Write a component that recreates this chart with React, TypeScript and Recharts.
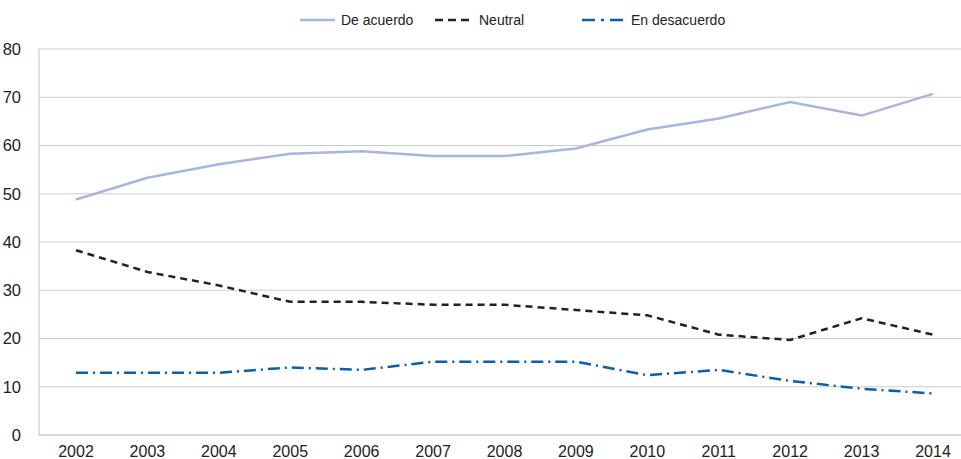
import React from "react";
import { CartesianGrid, Legend, Line, LineChart, XAxis, YAxis } from "recharts";

const years = ["2002", "2003", "2004", "2005", "2006", "2007", "2008", "2009", "2010", "2011", "2012", "2013", "2014"];
const deAcuerdo = [48.8, 53.3, 56.1, 58.3, 58.8, 57.8, 57.8, 59.4, 63.3, 65.6, 69.0, 66.2, 70.7];
const neutral = [38.3, 33.8, 31.0, 27.6, 27.6, 27.0, 27.0, 25.9, 24.8, 20.8, 19.7, 24.2, 20.8];
const enDesacuerdo = [12.9, 12.9, 12.9, 14.0, 13.5, 15.2, 15.2, 15.2, 12.4, 13.5, 11.2, 9.6, 8.6];
const yTicks = [0, 10, 20, 30, 40, 50, 60, 70, 80];

const data = years.map((y, i) => ({
  year: y,
  deAcuerdo: deAcuerdo[i],
  neutral: neutral[i],
  enDesacuerdo: enDesacuerdo[i],
}));

const series = [
  { key: "deAcuerdo", name: "De acuerdo", color: "#a7b6dd", dash: undefined, legendDash: undefined, iconX: 300, iconW: 35, textX: 341 },
  { key: "neutral", name: "Neutral", color: "#222222", dash: "7 5", legendDash: "8 5", iconX: 435, iconW: 36, textX: 479 },
  { key: "enDesacuerdo", name: "En desacuerdo", color: "#0b5ea8", dash: "12 5 2 5", legendDash: "13 6 3 6", iconX: 582, iconW: 41, textX: 631 },
];

const font = "'Liberation Sans', Arial, sans-serif";

function TopLegend() {
  return (
    <div style={{ position: "relative", width: 961, height: 40, fontFamily: font, fontSize: 14, color: "#222" }}>
      {series.map((s) => (
        <React.Fragment key={s.key}>
          <svg width={s.iconW} height={6} style={{ position: "absolute", left: s.iconX, top: 17 }}>
            <line x1={0} y1={3} x2={s.iconW} y2={3} stroke={s.color} strokeWidth={2.5} strokeDasharray={s.legendDash} />
          </svg>
          <span style={{ position: "absolute", left: s.textX, top: 11, lineHeight: "18px", whiteSpace: "nowrap" }}>{s.name}</span>
        </React.Fragment>
      ))}
    </div>
  );
}

export default function App() {
  return (
    <div>
      <style>{"body{margin:0}"}</style>
      <LineChart width={961} height={459} data={data} margin={{ top: 9, right: 0, left: 0, bottom: 0 }}>
        <CartesianGrid vertical={false} stroke="#cccccc" strokeWidth={1.2} />
        <XAxis
          dataKey="year"
          height={24}
          padding={{ left: 37, right: 28 }}
          axisLine={{ stroke: "#cccccc", strokeWidth: 1.2 }}
          tickLine={false}
          tick={{ fill: "#222", fontSize: 16, fontFamily: font }}
          tickMargin={5}
          interval={0}
        />
        <YAxis
          width={39}
          domain={[0, 80]}
          ticks={yTicks}
          axisLine={{ stroke: "#cccccc", strokeWidth: 1.2 }}
          tickLine={false}
          tick={{ fill: "#222", fontSize: 16.5, fontFamily: font }}
          tickMargin={12}
        />
        <Legend verticalAlign="top" height={40} wrapperStyle={{ top: 0, left: 0, width: 961 }} content={() => <TopLegend />} />
        {series.map((s) => (
          <Line
            key={s.key}
            type="linear"
            dataKey={s.key}
            name={s.name}
            stroke={s.color}
            strokeWidth={2.5}
            strokeDasharray={s.dash}
            dot={false}
            activeDot={false}
            isAnimationActive={false}
          />
        ))}
      </LineChart>
    </div>
  );
}
